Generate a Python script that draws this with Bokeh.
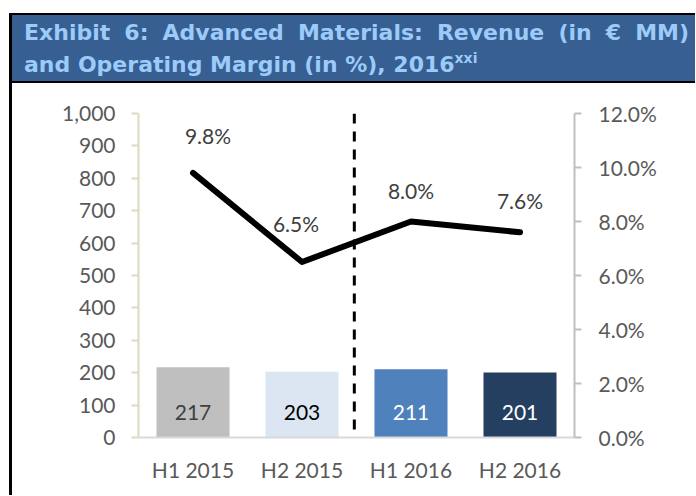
from bokeh.plotting import figure
from bokeh.layouts import column
from bokeh.models import (ColumnDataSource, FactorRange, Range1d, LinearAxis, FixedTicker,
                          NumeralTickFormatter, PrintfTickFormatter, Span, LabelSet, Div)
from bokeh.core.properties import value
from bokeh.embed import file_html
from bokeh.resources import INLINE

# ---- data ----
periods = ["H1 2015", "H2 2015", "H1 2016", "H2 2016"]
revenue = [217, 203, 211, 201]
margin_pct = [9.8, 6.5, 8.0, 7.6]
revenue_ticks = [0, 100, 200, 300, 400, 500, 600, 700, 800, 900, 1000]
margin_ticks = [0.0, 2.0, 4.0, 6.0, 8.0, 10.0, 12.0]
title_line1 = "Exhibit 6: Advanced Materials: Revenue (in \u20ac MM)"
title_line2 = "and Operating Margin (in %), 2016"
title_sup = "xxi"

# ---- styles ----
bar_colors = ["#BFBFBF", "#DCE6F2", "#4F81BD", "#243F60"]
bar_label_colors = ["#404040", "#000000", "#FFFFFF", "#FFFFFF"]
margin_label_dx = [15, -6, 0, 0]
margin_label_dy = [37, 39, 31, 32]
FONT = "Lato"
FS = "21px"
TICK_COLOR = "#595959"

W = 683
HEADER_H = 70
CHART_H = 412

header_html = (
    f'<div style="box-sizing:border-box;width:{W}px;height:{HEADER_H}px;'
    'background:#375F91;border-top:2px solid #000;border-bottom:2px solid #000;'
    'padding:2px 6px 0 12px;color:#9CCBFA;font-family:\'DejaVu Sans\',sans-serif;'
    'font-weight:bold;font-size:22px;line-height:32px;overflow:hidden;">'
    f'<div style="text-align:justify;text-align-last:justify;white-space:nowrap;">{title_line1}</div>'
    f'<div style="text-align:left;white-space:nowrap;">{title_line2}'
    f'<sup style="font-size:14px;line-height:0;vertical-align:9px;">{title_sup}</sup></div>'
    '</div>')
header = Div(text=header_html, width=W, height=HEADER_H, margin=0)

p = figure(width=W, height=CHART_H,
           x_range=FactorRange(factors=periods, range_padding=0),
           y_range=Range1d(0, 1000),
           output_backend="svg", toolbar_location=None,
           min_border_left=126, min_border_right=W - 126 - 436,
           min_border_top=30, min_border_bottom=CHART_H - 30 - 324)
p.outline_line_color = None
p.grid.grid_line_color = None
p.background_fill_color = "white"
p.border_fill_color = "white"
p.margin = 0

# left axis
ya = p.yaxis[0]
ya.ticker = FixedTicker(ticks=revenue_ticks)
ya.formatter = NumeralTickFormatter(format="0,0")
ya.axis_line_color = "#DDD9C3"
ya.axis_line_width = 2
ya.major_tick_line_color = "#DDD9C3"
ya.major_tick_line_width = 2
ya.major_tick_out = 7
ya.major_tick_in = 0
ya.minor_tick_line_color = None
ya.major_label_standoff = 16
ya.major_label_text_font = FONT
ya.major_label_text_font_size = FS
ya.major_label_text_color = TICK_COLOR

# right axis
p.extra_y_ranges = {"pct": Range1d(0, 12)}
ra = LinearAxis(y_range_name="pct", ticker=FixedTicker(ticks=margin_ticks),
                formatter=PrintfTickFormatter(format="%.1f%%"))
ra.axis_line_color = "#BFBFBF"
ra.axis_line_width = 2
ra.major_tick_line_color = "#BFBFBF"
ra.major_tick_line_width = 2
ra.major_tick_out = 7
ra.major_tick_in = 0
ra.minor_tick_line_color = None
ra.major_label_standoff = 17
ra.major_label_text_font = FONT
ra.major_label_text_font_size = FS
ra.major_label_text_color = TICK_COLOR
p.add_layout(ra, "right")

# x axis
xa = p.xaxis[0]
xa.axis_line_color = "#D9D9D9"
xa.axis_line_width = 2
xa.major_tick_line_color = None
xa.major_tick_out = 0
xa.major_tick_in = 0
xa.major_label_standoff = 19
xa.major_label_text_font = FONT
xa.major_label_text_font_size = FS
xa.major_label_text_color = TICK_COLOR

# bars
bar_src = ColumnDataSource(dict(
    period=periods, revenue=revenue, color=bar_colors,
    label=[str(v) for v in revenue], label_color=bar_label_colors,
    base=[0] * len(periods)))
p.vbar(x="period", top="revenue", width=0.67, fill_color="color", line_color=None,
       source=bar_src)
p.add_layout(LabelSet(x="period", y="base", text="label", source=bar_src,
                      y_offset=25, text_align="center", text_baseline="middle",
                      text_font=value(FONT), text_font_size=value(FS),
                      text_color="label_color"))

# divider between 2015 and 2016
p.add_layout(Span(location=1.98, dimension="height", line_color="black",
                  line_width=3, line_dash="10 8"))

# margin line
line_src = ColumnDataSource(dict(
    period=periods, margin=margin_pct,
    label=[f"{v:.1f}%" for v in margin_pct],
    dx=margin_label_dx, dy=margin_label_dy))
p.line(x="period", y="margin", y_range_name="pct", source=line_src,
       line_color="black", line_width=6, line_cap="round", line_join="round")
p.add_layout(LabelSet(x="period", y="margin", y_range_name="pct", text="label",
                      source=line_src, x_offset="dx", y_offset="dy",
                      text_align="center", text_baseline="middle",
                      text_font=value(FONT), text_font_size=value(FS),
                      text_color="#404040"))

layout = column(header, p, spacing=0,
                styles={"margin-left": "9px", "margin-top": "13px",
                        "border-left": "3px solid black"})

open("out.html", "w").write(file_html(layout, INLINE))
